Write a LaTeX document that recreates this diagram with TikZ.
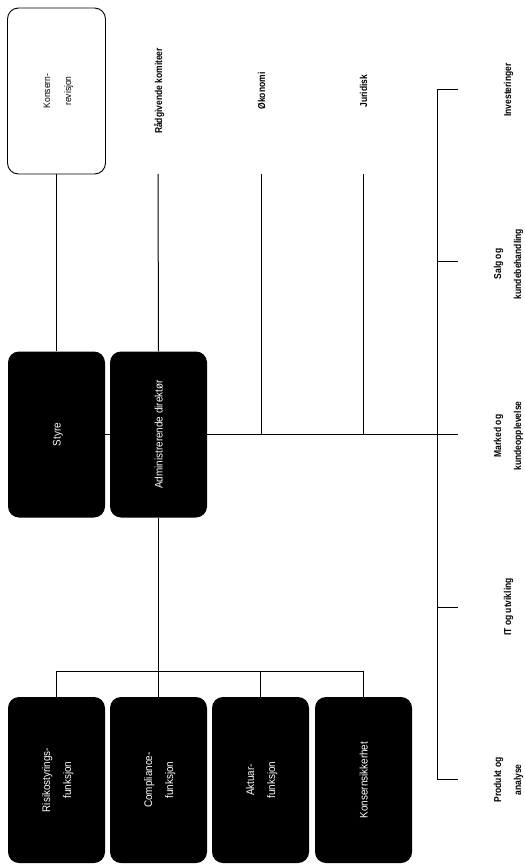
\documentclass[tikz,border=0pt]{standalone}
\usepackage{fontspec}
\setmainfont{Liberation Sans}
\newfontfamily\boxfont[FakeStretch=0.9]{Liberation Sans}
\newfontfamily\lblfont[FakeStretch=0.85]{Liberation Sans}
\usepackage{graphicx}
% text set upright along the page edge, lines stacked left to right
\newcommand\uptext[1]{\rotatebox{90}{\begin{tabular}{@{}c@{}}#1\end{tabular}}}

\begin{document}
\begin{tikzpicture}[x=1pt,y=-1pt,
  unit/.style={rectangle, rounded corners=11pt, minimum width=97pt, minimum height=166pt,
    inner sep=0pt, fill=black, text=white, font=\boxfont\fontsize{11}{21}\selectfont},
  audit/.style={unit, fill=white, draw=black, line width=0.9pt, text=black,
    minimum width=98pt, font=\boxfont\fontsize{9.5}{21}\selectfont},
  dept/.style={inner sep=0pt, font=\lblfont\bfseries\fontsize{10}{20}\selectfont},
  link/.style={draw=black, line width=1pt}]

\useasboundingbox (0,0) rectangle (524,866);

% governing bodies
\node[audit] (krev)  at (56.5,91)   {\uptext{Konsern-\\revisjon}};
\node[unit]  (styre) at (56.5,434.5) {\uptext{Styre}};
\node[unit]  (adm)   at (158.5,434.5) {\uptext{Administrerende direkt\o r}};

% control functions
\node[unit] (risk) at (56.5,780)  {\uptext{Risikostyrings-\\funksjon}};
\node[unit] (comp) at (158.5,780) {\uptext{Compliance-\\funksjon}};
\node[unit] (akt)  at (260.5,780) {\uptext{Aktuar-\\funksjon}};
\node[unit] (ksik) at (363.5,780) {\uptext{Konsernsikkerhet}};

% staff functions
\node[dept] (radg) at (158,91) {\uptext{R\aa dgivende komiteer}};
\node[dept] (okon) at (261,91) {\uptext{\O konomi}};
\node[dept] (jur)  at (363,91) {\uptext{Juridisk}};

% business areas
\node[dept] (inv)  at (507,90)  {\uptext{Investeringer}};
\node[dept] (salg) at (507,264) {\uptext{Salg og\\kundebehandling}};
\node[dept] (mark) at (507,436) {\uptext{Marked og\\kundeopplevelse}};
\node[dept] (it)   at (507,607) {\uptext{IT og utvikling}};
\node[dept] (prod) at (507,780) {\uptext{Produkt og\\analyse}};

% line ends
\coordinate (radgEnd) at (158,174);
\coordinate (okonEnd) at (261,174);
\coordinate (jurEnd)  at (363,174);
\coordinate (mainEnd) at (458,434);
\coordinate (busTop)  at (437,90);
\coordinate (busBot)  at (437,779);
\coordinate (tickX)   at (458,0);
\coordinate (ctrlBar) at (0,671);

% connectors
\draw[link] (krev.south) -- (styre.north);
\draw[link] (radgEnd) -- (adm.north);
\draw[link] (styre.east) -- (adm.west);
\draw[link] (adm.east) -- (adm.east -| mainEnd);
\draw[link] (okonEnd) -- (okonEnd |- adm.east);
\draw[link] (jurEnd) -- (jurEnd |- adm.east);

\draw[link] (busTop) -- (busBot);
\foreach \n/\y in {inv/90, salg/262, mark/434, it/607, prod/779}
  \draw[link] (437,\y) -- (458,\y);

\draw[link] (adm.south) -- (comp.north);
\draw[link] (risk.north) -- (risk.north |- ctrlBar) -- (ksik.north |- ctrlBar) -- (ksik.north);
\draw[link] (akt.north) -- (akt.north |- ctrlBar);

\end{tikzpicture}
\end{document}
